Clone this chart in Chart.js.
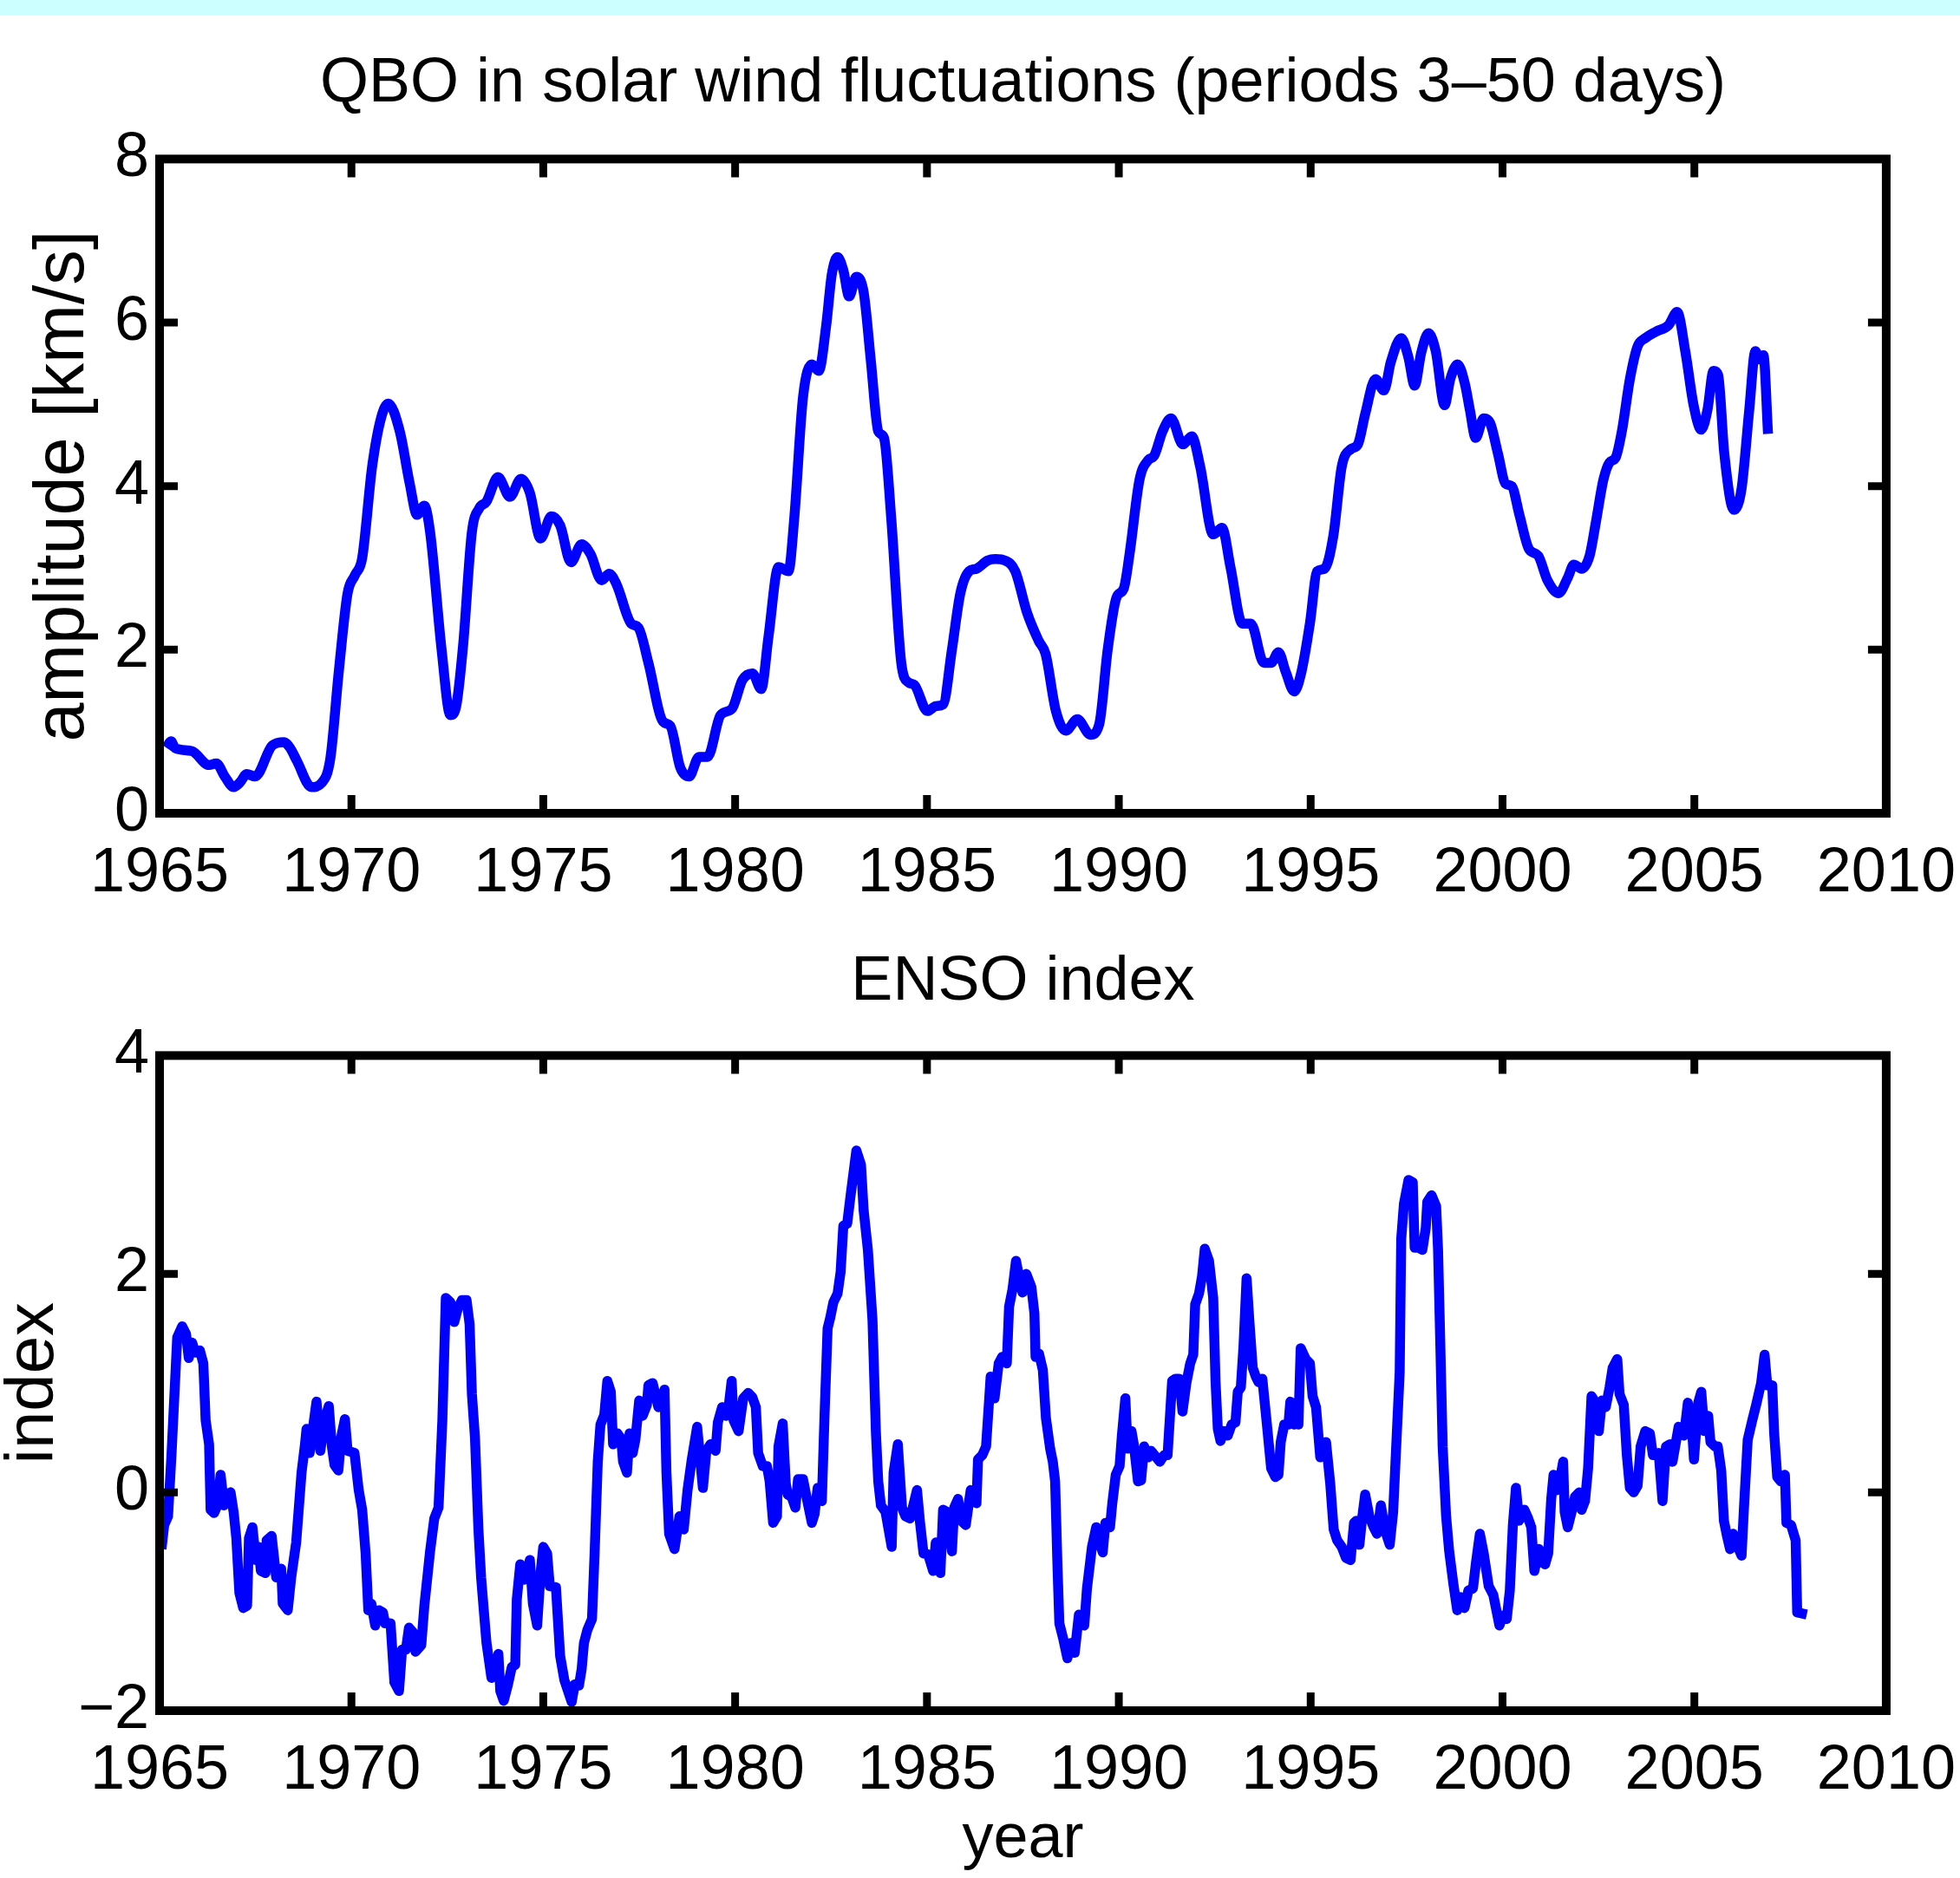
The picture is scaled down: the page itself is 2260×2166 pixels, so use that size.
<!DOCTYPE html>
<html>
<head>
<meta charset="utf-8">
<script src="https://cdn.jsdelivr.net/npm/chart.js@4.4.1/dist/chart.umd.min.js"></script>
<style>
  html, body { margin: 0; padding: 0; background: #fff; }
  #page { position: relative; width: 2260px; height: 2166px; overflow: hidden; background: #fff; }
  #band { position: absolute; left: 0; top: 0; width: 2260px; height: 18px; background: #ccffff; }
  canvas { position: absolute; left: 0; }
  #qbo-chart { top: 0; }
  #enso-chart { top: 1083px; }
</style>
</head>
<body>
<div id="page">
  <div id="band"></div>
  <canvas id="qbo-chart" width="2260" height="1083"></canvas>
  <canvas id="enso-chart" width="2260" height="1083"></canvas>
</div>
<script>
// Tick labels
const yearTicks = [1965, 1970, 1975, 1980, 1985, 1990, 1995, 2000, 2005, 2010];
const ampTicks = [0, 2, 4, 6, 8];
const ensoTicks = [-2, 0, 2, 4];

// QBO amplitude (km/s)
const qboYears = [
    1965.18, 1965.30, 1965.40, 1965.84, 1966.29, 1966.48, 1966.70, 1966.93, 1967.10, 1967.27,
    1967.49, 1967.94, 1968.24, 1968.40, 1968.58, 1968.96, 1969.22, 1969.45, 1969.67, 1969.90,
    1970.09, 1970.28, 1970.54, 1970.77, 1970.96, 1971.26, 1971.52, 1971.71, 1971.90, 1972.05,
    1972.35, 1972.58, 1972.73, 1972.91, 1973.14, 1973.33, 1973.52, 1973.82, 1974.13, 1974.42,
    1974.65, 1974.93, 1975.21, 1975.44, 1975.72, 1976.00, 1976.23, 1976.52, 1976.72, 1976.91,
    1977.29, 1977.48, 1977.74, 1978.12, 1978.31, 1978.57, 1978.80, 1979.06, 1979.28, 1979.62,
    1979.92, 1980.19, 1980.45, 1980.68, 1980.87, 1981.13, 1981.39, 1981.54, 1981.77, 1982.00,
    1982.18, 1982.37, 1982.52, 1982.67, 1982.82, 1982.97, 1983.16, 1983.35, 1983.54, 1983.73,
    1983.88, 1984.07, 1984.33, 1984.52, 1984.67, 1985.01, 1985.23, 1985.42, 1985.65, 1985.87,
    1986.10, 1986.29, 1986.58, 1986.78, 1987.04, 1987.30, 1987.61, 1987.91, 1988.09, 1988.36,
    1988.62, 1988.92, 1989.26, 1989.49, 1989.71, 1989.94, 1990.13, 1990.28, 1990.54, 1990.77,
    1990.92, 1991.14, 1991.36, 1991.67, 1991.90, 1992.12, 1992.46, 1992.69, 1992.91, 1993.22,
    1993.44, 1993.78, 1993.97, 1994.16, 1994.35, 1994.57, 1994.76, 1994.98, 1995.17, 1995.36,
    1995.59, 1995.81, 1996.04, 1996.23, 1996.42, 1996.69, 1996.91, 1997.09, 1997.36, 1997.55,
    1997.71, 1997.88, 1998.07, 1998.26, 1998.49, 1998.64, 1998.83, 1999.02, 1999.15, 1999.30,
    1999.51, 1999.68, 1999.88, 2000.08, 2000.24, 2000.44, 2000.69, 2000.93, 2001.17, 2001.46,
    2001.70, 2001.86, 2002.06, 2002.27, 2002.43, 2002.63, 2002.79, 2002.95, 2003.11, 2003.32,
    2003.52, 2003.72, 2004.00, 2004.33, 2004.55, 2004.77, 2004.98, 2005.18, 2005.34, 2005.50,
    2005.62, 2005.78, 2006.03, 2006.23, 2006.43, 2006.59, 2006.70, 2006.80, 2006.92
];
const qboAmp = [
    0.80, 0.88, 0.80, 0.76, 0.59, 0.61, 0.45, 0.32, 0.38, 0.48,
    0.45, 0.83, 0.87, 0.80, 0.64, 0.32, 0.37, 0.67, 1.73, 2.69,
    2.91, 3.12, 4.24, 4.83, 5.01, 4.67, 4.03, 3.65, 3.76, 3.44,
    2.00, 1.20, 1.31, 2.05, 3.44, 3.73, 3.81, 4.11, 3.87, 4.09,
    3.92, 3.36, 3.63, 3.52, 3.07, 3.29, 3.17, 2.85, 2.93, 2.80,
    2.32, 2.27, 1.84, 1.12, 1.07, 0.56, 0.45, 0.69, 0.69, 1.20,
    1.28, 1.63, 1.71, 1.52, 2.16, 3.01, 2.96, 3.60, 5.09, 5.49,
    5.41, 5.95, 6.59, 6.80, 6.64, 6.32, 6.56, 6.37, 5.52, 4.67,
    4.59, 3.60, 1.84, 1.60, 1.57, 1.25, 1.31, 1.33, 2.00, 2.69,
    2.96, 2.99, 3.09, 3.11, 3.09, 2.96, 2.45, 2.11, 1.95, 1.25,
    1.01, 1.15, 0.96, 1.09, 2.00, 2.64, 2.75, 3.17, 4.08, 4.32,
    4.37, 4.67, 4.83, 4.51, 4.61, 4.24, 3.41, 3.49, 3.01, 2.32,
    2.32, 1.84, 1.84, 1.97, 1.73, 1.49, 1.73, 2.32, 2.96, 2.99,
    3.39, 4.24, 4.45, 4.51, 4.88, 5.31, 5.17, 5.52, 5.81, 5.57,
    5.23, 5.63, 5.87, 5.65, 4.99, 5.31, 5.49, 5.25, 4.93, 4.59,
    4.83, 4.77, 4.40, 4.03, 4.00, 3.65, 3.23, 3.15, 2.85, 2.69,
    2.88, 3.04, 2.99, 3.15, 3.55, 4.08, 4.29, 4.35, 4.67, 5.31,
    5.71, 5.81, 5.89, 5.97, 6.13, 5.63, 4.99, 4.69, 4.93, 5.41,
    5.36, 4.40, 3.71, 3.97, 4.93, 5.65, 5.55, 5.60, 4.64
];

// ENSO index
const ensoYears = [
    1965.05, 1965.12, 1965.22, 1965.31, 1965.46, 1965.59, 1965.69, 1965.76, 1965.85, 1965.93,
    1966.05, 1966.14, 1966.20, 1966.29, 1966.33, 1966.42, 1966.51, 1966.59, 1966.68, 1966.85,
    1966.93, 1967.00, 1967.08, 1967.18, 1967.28, 1967.33, 1967.42, 1967.51, 1967.58, 1967.64,
    1967.76, 1967.79, 1967.92, 1968.04, 1968.17, 1968.21, 1968.34, 1968.43, 1968.56, 1968.70,
    1968.79, 1968.83, 1968.91, 1969.09, 1969.19, 1969.30, 1969.41, 1969.49, 1969.56, 1969.66,
    1969.73, 1969.83, 1969.90, 1970.08, 1970.19, 1970.28, 1970.37, 1970.44, 1970.52, 1970.62,
    1970.72, 1970.82, 1970.88, 1971.02, 1971.12, 1971.24, 1971.32, 1971.42, 1971.50, 1971.60,
    1971.67, 1971.82, 1971.90, 1972.05, 1972.16, 1972.27, 1972.37, 1972.46, 1972.58, 1972.68,
    1972.77, 1972.88, 1973.00, 1973.08, 1973.14, 1973.22, 1973.31, 1973.38, 1973.52, 1973.65,
    1973.74, 1973.83, 1973.88, 1973.97, 1974.08, 1974.18, 1974.27, 1974.31, 1974.40, 1974.50,
    1974.57, 1974.65, 1974.73, 1974.84, 1974.93, 1975.00, 1975.10, 1975.17, 1975.33, 1975.44,
    1975.55, 1975.74, 1975.82, 1975.93, 1976.00, 1976.06, 1976.15, 1976.27, 1976.34, 1976.42,
    1976.49, 1976.59, 1976.67, 1976.76, 1976.82, 1976.93, 1977.03, 1977.08, 1977.18, 1977.25,
    1977.33, 1977.40, 1977.50, 1977.59, 1977.70, 1977.74, 1977.85, 1978.00, 1978.16, 1978.21,
    1978.28, 1978.42, 1978.55, 1978.66, 1978.76, 1978.87, 1979.01, 1979.08, 1979.16, 1979.25,
    1979.36, 1979.49, 1979.55, 1979.66, 1979.76, 1979.83, 1979.91, 1979.96, 1980.09, 1980.21,
    1980.34, 1980.45, 1980.54, 1980.60, 1980.72, 1980.83, 1980.90, 1980.99, 1981.09, 1981.13,
    1981.24, 1981.32, 1981.37, 1981.47, 1981.57, 1981.64, 1981.77, 1981.87, 1982.00, 1982.07,
    1982.15, 1982.26, 1982.33, 1982.41, 1982.48, 1982.56, 1982.67, 1982.75, 1982.82, 1982.92,
    1983.01, 1983.16, 1983.28, 1983.35, 1983.46, 1983.58, 1983.67, 1983.73, 1983.80, 1983.92,
    1984.08, 1984.13, 1984.24, 1984.35, 1984.44, 1984.56, 1984.74, 1984.82, 1984.91, 1985.03,
    1985.16, 1985.23, 1985.35, 1985.42, 1985.52, 1985.65, 1985.71, 1985.81, 1985.89, 1986.01,
    1986.14, 1986.29, 1986.33, 1986.44, 1986.54, 1986.66, 1986.76, 1986.87, 1986.96, 1987.08,
    1987.14, 1987.23, 1987.32, 1987.42, 1987.49, 1987.59, 1987.72, 1987.80, 1987.83, 1987.92,
    1988.02, 1988.10, 1988.21, 1988.28, 1988.34, 1988.40, 1988.45, 1988.55, 1988.66, 1988.75,
    1988.85, 1988.96, 1989.10, 1989.17, 1989.30, 1989.41, 1989.50, 1989.58, 1989.65, 1989.77,
    1989.83, 1989.92, 1990.02, 1990.08, 1990.17, 1990.23, 1990.33, 1990.39, 1990.50, 1990.58,
    1990.66, 1990.77, 1990.84, 1991.07, 1991.18, 1991.27, 1991.39, 1991.48, 1991.58, 1991.66,
    1991.76, 1991.86, 1991.94, 1991.99, 1992.09, 1992.17, 1992.24, 1992.35, 1992.46, 1992.52,
    1992.58, 1992.65, 1992.73, 1992.84, 1992.94, 1993.04, 1993.10, 1993.18, 1993.25, 1993.33,
    1993.40, 1993.49, 1993.57, 1993.64, 1993.74, 1993.86, 1993.97, 1994.08, 1994.16, 1994.22,
    1994.31, 1994.42, 1994.47, 1994.57, 1994.65, 1994.68, 1994.74, 1994.87, 1994.98, 1995.05,
    1995.14, 1995.25, 1995.32, 1995.40, 1995.51, 1995.60, 1995.69, 1995.81, 1995.92, 1996.04,
    1996.13, 1996.19, 1996.27, 1996.34, 1996.42, 1996.53, 1996.64, 1996.73, 1996.83, 1996.93,
    1997.06, 1997.15, 1997.24, 1997.32, 1997.36, 1997.43, 1997.55, 1997.66, 1997.71, 1997.81,
    1997.91, 1998.00, 1998.04, 1998.15, 1998.27, 1998.32, 1998.38, 1998.44, 1998.53, 1998.61,
    1998.72, 1998.82, 1998.91, 1999.01, 1999.11, 1999.23, 1999.31, 1999.41, 1999.51, 1999.64,
    1999.76, 1999.84, 1999.92, 2000.00, 2000.11, 2000.19, 2000.27, 2000.35, 2000.43, 2000.57,
    2000.67, 2000.75, 2000.83, 2000.95, 2001.03, 2001.11, 2001.19, 2001.27, 2001.33, 2001.42,
    2001.51, 2001.58, 2001.62, 2001.70, 2001.80, 2001.89, 2002.00, 2002.06, 2002.15, 2002.23,
    2002.32, 2002.43, 2002.51, 2002.59, 2002.69, 2002.79, 2002.87, 2002.99, 2003.05, 2003.16,
    2003.24, 2003.32, 2003.42, 2003.52, 2003.60, 2003.72, 2003.84, 2003.92, 2004.07, 2004.17,
    2004.26, 2004.37, 2004.43, 2004.49, 2004.59, 2004.73, 2004.83, 2004.94, 2004.99, 2005.10,
    2005.18, 2005.26, 2005.36, 2005.42, 2005.54, 2005.61, 2005.70, 2005.77, 2005.85, 2005.93,
    2006.01, 2006.11, 2006.23, 2006.29, 2006.39, 2006.51, 2006.61, 2006.74, 2006.83, 2006.90,
    2007.03, 2007.08, 2007.16, 2007.25, 2007.36, 2007.40, 2007.52, 2007.64, 2007.68, 2007.93
];
const ensoIndex = [
    -0.52, -0.30, -0.22, 0.34, 1.42, 1.52, 1.45, 1.23, 1.37, 1.28,
    1.30, 1.18, 0.66, 0.44, -0.16, -0.19, -0.12, 0.16, -0.12, 0.00,
    -0.18, -0.42, -0.92, -1.06, -1.04, -0.42, -0.32, -0.62, -0.50, -0.72,
    -0.74, -0.44, -0.40, -0.78, -0.70, -1.02, -1.08, -0.78, -0.46, 0.18,
    0.44, 0.58, 0.36, 0.83, 0.38, 0.66, 0.79, 0.42, 0.25, 0.20,
    0.50, 0.67, 0.38, 0.36, 0.02, -0.16, -0.56, -1.08, -1.02, -1.22,
    -1.08, -1.10, -1.20, -1.20, -1.74, -1.82, -1.44, -1.44, -1.24, -1.28,
    -1.46, -1.40, -1.04, -0.54, -0.24, -0.14, 0.66, 1.78, 1.74, 1.56,
    1.68, 1.76, 1.76, 1.54, 0.90, 0.50, -0.34, -0.78, -1.38, -1.70,
    -1.62, -1.48, -1.82, -1.91, -1.76, -1.60, -1.58, -0.98, -0.66, -0.80,
    -0.76, -0.62, -1.02, -1.22, -0.74, -0.50, -0.56, -0.86, -0.87, -1.50,
    -1.72, -1.92, -1.76, -1.77, -1.62, -1.38, -1.26, -1.16, -0.54, 0.28,
    0.62, 0.71, 1.02, 0.92, 0.44, 0.54, 0.49, 0.28, 0.18, 0.54,
    0.36, 0.48, 0.84, 0.70, 0.80, 0.98, 1.00, 0.78, 0.94, 0.18,
    -0.38, -0.52, -0.22, -0.34, 0.02, 0.30, 0.60, 0.34, 0.04, 0.38,
    0.44, 0.38, 0.64, 0.78, 0.70, 0.78, 1.02, 0.66, 0.56, 0.86,
    0.91, 0.87, 0.78, 0.36, 0.24, 0.24, 0.10, -0.28, -0.22, 0.42,
    0.63, 0.08, -0.02, -0.04, -0.14, 0.12, 0.12, -0.06, -0.28, -0.20,
    0.04, -0.08, 0.70, 1.50, 1.60, 1.74, 1.82, 2.02, 2.44, 2.46,
    2.72, 3.13, 3.00, 2.58, 2.22, 1.58, 0.54, 0.10, -0.12, -0.18,
    -0.50, 0.18, 0.44, -0.14, -0.22, -0.24, 0.02, -0.28, -0.56, -0.57,
    -0.72, -0.46, -0.74, -0.16, -0.18, -0.54, -0.14, -0.06, -0.26, -0.30,
    0.02, -0.10, 0.30, 0.34, 0.42, 1.06, 0.86, 1.18, 1.24, 1.18,
    1.70, 1.86, 2.12, 1.94, 1.83, 2.00, 1.88, 1.64, 1.24, 1.27,
    1.12, 0.68, 0.40, 0.28, 0.10, -0.66, -1.20, -1.34, -1.52, -1.38,
    -1.47, -1.12, -1.22, -0.88, -0.50, -0.32, -0.46, -0.55, -0.28, -0.32,
    -0.10, 0.16, 0.24, 0.52, 0.86, 0.40, 0.56, 0.44, 0.10, 0.11,
    0.42, 0.32, 0.38, 0.28, 0.34, 0.34, 1.02, 1.04, 1.04, 0.74,
    1.00, 1.18, 1.26, 1.72, 1.82, 1.98, 2.23, 2.12, 1.78, 1.02,
    0.58, 0.47, 0.56, 0.52, 0.62, 0.64, 0.92, 0.96, 1.34, 1.96,
    1.58, 1.14, 1.06, 1.01, 1.04, 0.62, 0.22, 0.14, 0.16, 0.46,
    0.62, 0.62, 0.83, 0.62, 0.66, 0.62, 1.32, 1.22, 1.18, 0.88,
    0.78, 0.32, 0.40, 0.46, 0.08, -0.34, -0.44, -0.50, -0.60, -0.62,
    -0.28, -0.26, -0.48, -0.24, -0.02, -0.22, -0.32, -0.38, -0.12, -0.34,
    -0.48, -0.18, 0.50, 1.10, 2.32, 2.64, 2.86, 2.84, 2.24, 2.24,
    2.22, 2.42, 2.66, 2.72, 2.62, 2.22, 1.34, 0.42, -0.22, -0.54,
    -0.84, -1.08, -0.96, -1.06, -0.90, -0.88, -0.64, -0.38, -0.56, -0.86,
    -0.94, -1.08, -1.22, -1.13, -1.16, -0.90, -0.30, 0.04, -0.26, -0.16,
    -0.24, -0.32, -0.72, -0.52, -0.64, -0.66, -0.56, -0.06, 0.16, 0.02,
    0.14, 0.28, -0.18, -0.32, -0.18, -0.04, 0.00, -0.16, -0.08, 0.22,
    0.88, 0.82, 0.56, 0.84, 0.78, 0.96, 1.14, 1.22, 0.90, 0.80,
    0.34, 0.04, 0.00, 0.06, 0.42, 0.56, 0.54, 0.34, 0.36, -0.08,
    0.42, 0.44, 0.28, 0.40, 0.60, 0.52, 0.82, 0.58, 0.30, 0.82,
    0.92, 0.56, 0.70, 0.46, 0.42, 0.42, 0.20, -0.26, -0.40, -0.52,
    -0.38, -0.48, -0.58, -0.16, 0.48, 0.66, 0.80, 1.00, 1.26, 0.98,
    0.98, 0.54, 0.14, 0.10, 0.16, -0.28, -0.30, -0.44, -1.10, -1.12
];

const FONT = "'Liberation Sans', Arial, Helvetica, sans-serif";
const minus = v => (v < 0 ? '\u2212' + Math.abs(v) : String(v));

// MATLAB-style box with inward tick marks on all four sides
const boxFrame = {
    id: 'boxFrame',
    afterDatasetsDraw(chart) {
        const { ctx, chartArea: a, scales: { x, y } } = chart;
        const len = 21;
        ctx.save();
        ctx.strokeStyle = '#000';
        ctx.lineCap = 'butt';
        ctx.lineWidth = 9;
        ctx.beginPath();
        x.ticks.forEach(t => {
            const px = x.getPixelForValue(t.value);
            ctx.moveTo(px, a.top); ctx.lineTo(px, a.top + len);
            ctx.moveTo(px, a.bottom); ctx.lineTo(px, a.bottom - len);
        });
        y.ticks.forEach(t => {
            const py = y.getPixelForValue(t.value);
            ctx.moveTo(a.left, py); ctx.lineTo(a.left + len, py);
            ctx.moveTo(a.right, py); ctx.lineTo(a.right - len, py);
        });
        ctx.stroke();
        ctx.lineWidth = 10;
        ctx.lineJoin = 'miter';
        ctx.strokeRect(a.left, a.top, a.right - a.left, a.bottom - a.top);
        ctx.restore();
    }
};

function makeChart(id, cfg) {
    // tall line height pushes the year labels down while keeping the side padding small
    const xTickFont = { family: FONT, size: 72, lineHeight: 1.8 };
    const yTickFont = { family: FONT, size: 72, lineHeight: 1.2 };
    return new Chart(document.getElementById(id), {
        type: 'line',
        data: {
            datasets: [{
                data: cfg.xs.map((x, i) => ({ x: x, y: cfg.ys[i] })),
                borderColor: '#0000ff',
                borderWidth: 11.5,
                pointRadius: 0,
                borderJoinStyle: 'round',
                borderCapStyle: 'butt',
                cubicInterpolationMode: cfg.smooth ? 'monotone' : 'default',
                tension: 0
            }]
        },
        options: {
            responsive: false,
            devicePixelRatio: 1,
            animation: false,
            layout: { padding: { left: 0, right: 85, top: 0, bottom: 0 } },
            plugins: {
                legend: { display: false },
                tooltip: { enabled: false },
                title: {
                    display: true,
                    text: cfg.title,
                    color: '#000',
                    fullSize: false,
                    font: { family: FONT, size: 72, weight: 'normal', lineHeight: 1.2 },
                    padding: cfg.titlePad
                }
            },
            scales: {
                x: {
                    type: 'linear',
                    min: 1965,
                    max: 2010,
                    afterBuildTicks: s => { s.ticks = yearTicks.map(v => ({ value: v })); },
                    afterFit: s => { s.height = cfg.xHeight; },
                    grid: { display: false, drawTicks: false },
                    border: { display: false },
                    ticks: {
                        color: '#000', font: xTickFont, padding: 5,
                        maxRotation: 0, autoSkip: false,
                        callback: v => String(v)
                    },
                    title: cfg.xTitle ? {
                        display: true, text: cfg.xTitle, color: '#000',
                        font: { family: FONT, size: 72, lineHeight: 1 },
                        padding: { top: 0, bottom: 8 }
                    } : { display: false }
                },
                y: {
                    min: cfg.yTicks[0],
                    max: cfg.yTicks[cfg.yTicks.length - 1],
                    afterBuildTicks: s => { s.ticks = cfg.yTicks.map(v => ({ value: v })); },
                    afterFit: s => { s.width = 184; },
                    grid: { display: false, drawTicks: false },
                    border: { display: false },
                    ticks: { color: '#000', font: yTickFont, padding: 12, callback: minus },
                    title: {
                        display: true, text: cfg.yTitle, color: '#000',
                        font: { family: FONT, size: cfg.yTitleSize, lineHeight: 1 },
                        padding: { top: cfg.yTitlePad, bottom: 0 }
                    }
                }
            }
        },
        plugins: [boxFrame]
    });
}

makeChart('qbo-chart', {
    xs: qboYears, ys: qboAmp, smooth: true,
    title: 'QBO in solar wind fluctuations (periods 3\u201350 days)',
    titlePad: { top: 54, bottom: 43 },
    xHeight: 145,
    yTicks: ampTicks,
    yTitle: 'amplitude [km/s]', yTitleSize: 81, yTitlePad: 33
});

makeChart('enso-chart', {
    xs: ensoYears, ys: ensoIndex, smooth: false,
    title: 'ENSO index',
    titlePad: { top: 7, bottom: 41 },
    xHeight: 193,
    xTitle: 'year',
    yTicks: ensoTicks,
    yTitle: 'index', yTitleSize: 78, yTitlePad: 0
});
</script>
</body>
</html>
